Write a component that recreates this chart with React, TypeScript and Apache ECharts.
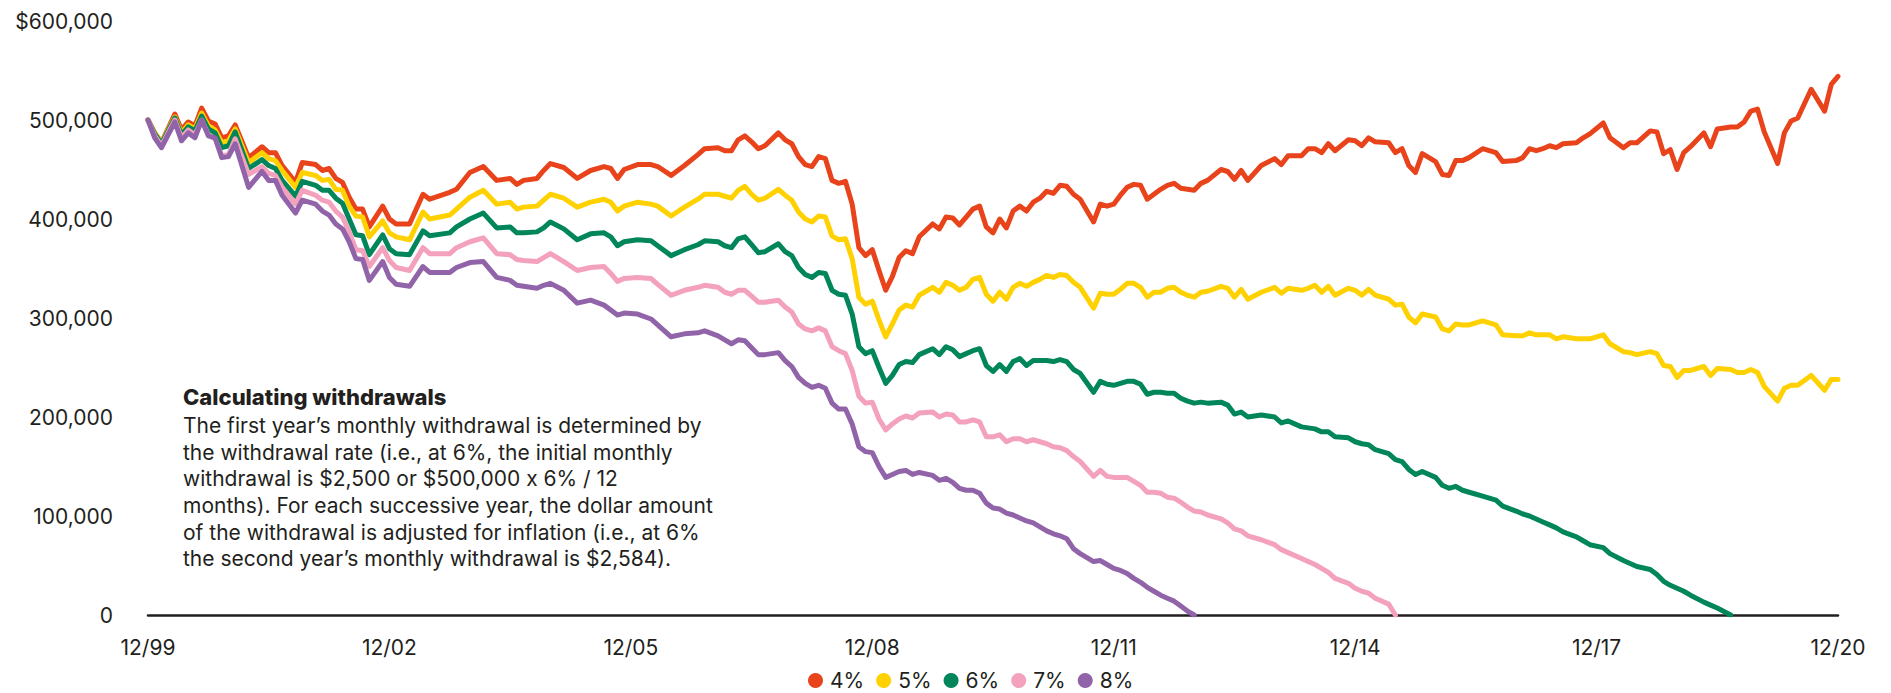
import React, { useEffect, useRef } from "react";
import * as echarts from "echarts";

// Month index counted from 12/99 (0) to 12/20 (252)
const months = [
  0, 1, 2, 4, 5, 6, 7, 8, 9, 10, 11, 12, 13, 15, 17, 18, 19, 20, 22, 23, 25, 26, 27, 28, 29, 30, 31, 32, 33, 35,
  36, 37, 39, 41, 42, 45, 46, 48, 50, 52, 54, 55, 56, 58, 59, 60, 62, 64, 66, 68, 69, 70, 71, 73, 75, 76,
  78, 80, 82, 83, 85, 86, 87, 88, 89, 90, 91, 92, 94, 95, 96, 97, 98, 99, 100, 101, 102, 103, 104, 105, 106, 107,
  108, 109, 110, 111, 112, 113, 114, 115, 117, 118, 119, 120, 121, 122, 123, 124, 125, 126, 127, 128, 129, 130,
  131, 132, 133, 134, 135, 136, 137, 138, 139, 141, 142, 143, 144, 145, 146, 147, 148, 149, 150, 151,
  152, 153, 154, 155, 156, 157, 158, 160, 161, 162, 163, 164, 166, 168, 169, 170, 172, 173, 174, 175, 176, 177,
  179, 180, 181, 182, 183, 185, 186, 187, 188, 189, 190, 192, 193, 194, 195, 196, 197, 199, 201, 202, 204, 205,
  206, 207, 208, 209, 210, 211, 213, 214, 215, 217, 218, 220, 221, 222, 224, 225,
  226, 227, 228, 229, 230, 232, 233, 234, 236, 237, 238, 239, 240, 241, 243, 244, 245, 246, 248, 250, 251, 252,
];

// Portfolio values in thousands of dollars, aligned with months
const rate4 = [
  500, 487, 477, 506, 490, 498, 494, 512, 499, 496, 482, 484, 495, 462, 473, 467, 467, 454, 437, 457,
  455, 449, 451, 441, 437, 422, 410, 410, 392, 413, 400, 395, 395, 425, 420, 427, 430, 447, 453, 439,
  441, 435, 439, 441, 449, 456, 452, 441, 449, 453, 451, 441, 450, 455, 455, 453,
  444, 454, 465, 471, 472, 469, 469, 480, 484, 478, 471, 474, 487, 480, 476, 463, 455, 453, 463, 461,
  439, 436, 438, 415, 371, 363, 369, 348, 328, 342, 361, 368, 365, 382, 395, 390, 402, 401, 394, 402,
  410, 413, 392, 386, 400, 391, 408, 413, 408, 417, 421, 428, 426, 434, 433, 425, 420, 397, 415, 413,
  415, 424, 432, 435, 434, 420, 425, 430,
  434, 436, 431, 430, 429, 436, 439, 450, 448, 440, 449, 439, 454, 461, 455, 464, 464, 471, 471, 467,
  476, 469, 480, 479, 474, 482, 478, 477, 467, 471, 454, 447, 466, 458, 445, 444, 459, 459, 462, 471,
  467, 458, 459, 462, 471, 469, 471, 474, 472, 476, 477, 482, 486, 497, 482, 472, 477, 477, 489, 488,
  466, 470, 450, 467, 473, 487, 473, 491, 493, 493, 498, 509, 511, 488, 456, 487, 499, 502, 531, 509,
  536, 544,
];

const rate5 = [
  500, 487, 477, 503, 487, 495, 491, 507, 494, 490, 477, 479, 491, 457, 467, 461, 459, 449, 432, 447,
  444, 439, 440, 430, 429, 413, 403, 402, 382, 398, 386, 382, 379, 407, 400, 404, 410, 422, 429, 415,
  417, 410, 412, 413, 419, 425, 421, 412, 417, 420, 417, 408, 413, 417, 415, 413,
  403, 412, 420, 425, 425, 423, 421, 429, 433, 425, 419, 421, 430, 424, 419, 407, 400, 397, 403, 402,
  383, 379, 380, 360, 321, 314, 317, 298, 281, 294, 308, 313, 311, 323, 331, 326, 336, 333, 328, 331,
  339, 341, 324, 317, 326, 319, 331, 335, 332, 336, 339, 343, 341, 344, 343, 336, 331, 310, 325, 324,
  324, 329, 335, 335, 331, 321, 326, 326,
  330, 331, 326, 323, 321, 326, 327, 332, 330, 321, 329, 319, 326, 331, 325, 330, 328, 330, 333, 326,
  332, 323, 330, 328, 323, 329, 323, 319, 313, 314, 301, 295, 304, 301, 289, 287, 294, 293, 293, 297,
  293, 283, 282, 282, 285, 283, 283, 283, 279, 281, 279, 279, 279, 283, 274, 266, 265, 263, 266, 264,
  252, 251, 240, 247, 247, 251, 242, 249, 248, 245, 245, 248, 245, 231, 216, 229, 232, 232, 242, 227,
  238, 238,
];

const rate6 = [
  500, 486, 476, 502, 485, 493, 489, 504, 491, 487, 472, 474, 488, 451, 460, 454, 451, 439, 423, 438,
  434, 429, 429, 421, 416, 400, 384, 383, 364, 384, 370, 365, 364, 388, 383, 386, 392, 400, 406, 391,
  392, 386, 386, 387, 391, 397, 390, 379, 385, 386, 382, 373, 377, 379, 378, 373,
  363, 369, 374, 378, 377, 373, 371, 380, 382, 374, 366, 367, 375, 367, 363, 351, 344, 341, 346, 345,
  328, 324, 323, 304, 271, 264, 267, 250, 234, 242, 253, 256, 255, 263, 269, 263, 271, 268, 261, 264,
  267, 269, 252, 246, 253, 246, 256, 259, 252, 257, 257, 257, 256, 258, 256, 248, 244, 225, 236, 233,
  232, 234, 236, 236, 233, 223, 225, 225,
  224, 224, 219, 216, 214, 215, 214, 215, 212, 203, 205, 200, 202, 200, 194, 196, 190, 189, 188, 185,
  185, 180, 179, 175, 173, 172, 167, 163, 157, 155, 147, 142, 145, 139, 131, 128, 130, 126, 124, 120,
  116, 110, 105, 102, 100, 97, 94, 91, 88, 84, 79, 75, 71, 68, 62, 55, 52, 49, 46, 41,
  34, 30, 27, 24, 20, 13, 10, 7, 0,
];

const rate7 = [
  500, 484, 474, 500, 482, 490, 485, 500, 485, 481, 464, 465, 481, 445, 453, 446, 444, 432, 415, 429,
  424, 419, 417, 408, 402, 387, 369, 368, 352, 371, 358, 351, 348, 371, 365, 365, 371, 377, 381, 365,
  364, 359, 358, 357, 361, 365, 357, 348, 351, 352, 345, 337, 340, 341, 340, 334,
  323, 328, 331, 333, 331, 326, 324, 328, 328, 322, 316, 316, 318, 311, 306, 294, 289, 287, 290, 287,
  271, 267, 264, 247, 221, 214, 215, 198, 187, 193, 198, 201, 199, 204, 205, 200, 203, 202, 195, 195,
  197, 195, 180, 180, 182, 175, 178, 178, 175, 177, 175, 173, 170, 169, 166, 160, 155, 140, 146, 140,
  139, 139, 139, 135, 131, 124, 124, 123,
  119, 118, 114, 109, 105, 104, 101, 97, 93, 87, 85, 80, 76, 71, 66, 63, 57, 54, 51, 47,
  43, 37, 32, 27, 24, 22, 17, 11, 0,
];

const rate8 = [
  500, 482, 472, 498, 479, 487, 482, 500, 484, 482, 462, 463, 476, 432, 448, 439, 439, 424, 406, 419,
  415, 408, 404, 395, 390, 377, 360, 359, 338, 357, 341, 334, 332, 352, 346, 346, 351, 356, 357, 341,
  338, 333, 332, 330, 333, 335, 328, 315, 318, 313, 308, 303, 305, 304, 299, 293,
  281, 284, 285, 287, 282, 278, 274, 278, 277, 270, 263, 263, 265, 257, 251, 240, 234, 230, 232, 229,
  214, 208, 208, 193, 170, 165, 164, 150, 139, 142, 145, 146, 142, 144, 141, 136, 138, 134, 128, 126,
  126, 123, 113, 108, 107, 103, 101, 98, 95, 93, 89, 85, 82, 80, 77, 67, 62, 54, 55, 51,
  47, 45, 42, 37, 33, 28, 24, 20,
  17, 14, 9, 4, 0,
];

const seriesNames = ["4%", "5%", "6%", "7%", "8%"];
const seriesValues = [rate4, rate5, rate6, rate7, rate8];
const seriesColors = ["#E8431B", "#FFD100", "#00865A", "#F3A1BC", "#9163A8"];

const xTickLabels = ["12/99", "12/02", "12/05", "12/08", "12/11", "12/14", "12/17", "12/20"];
const yTickLabels = ["0", "100,000", "200,000", "300,000", "400,000", "500,000", "$600,000"];

const noteTitle = "Calculating withdrawals";
// {x|x} keeps the multiplication letter a plain "x" (its own text run)
const noteLines = [
  "The first year\u2019s monthly withdrawal is determined by",
  "the withdrawal rate (i.e., at 6%, the initial monthly",
  "withdrawal is $2,500 or $500,000 {x|x} 6% / 12",
  "months). For each successive year, the dollar amount",
  "of the withdrawal is adjusted for inflation (i.e., at 6%",
  "the second year\u2019s monthly withdrawal is $2,584).",
];

const FONT = "Inter, 'Noto Sans', sans-serif";
const TEXT = "#231F20";

export default function App() {
  const ref = useRef<HTMLDivElement>(null);

  useEffect(() => {
    if (!ref.current) return;
    const chart = echarts.init(ref.current, undefined, { renderer: "svg" });
    const series = seriesValues.map((vals, si) => ({
      name: seriesNames[si],
      type: "line",
      data: vals.map((v, i) => [months[i], v * 1000]),
      showSymbol: false,
      symbol: "none",
      lineStyle: { width: 5, color: seriesColors[si], join: "round", cap: "round" },
      itemStyle: { color: seriesColors[si] },
      z: 2 + si,
    }));

    chart.setOption({
      animation: false,
      textStyle: { fontFamily: FONT },
      grid: { left: 148, right: 53, top: 21, bottom: 78, containLabel: false },
      xAxis: {
        type: "value",
        min: 0,
        max: 252,
        interval: 36,
        axisLine: { show: true, onZero: false, lineStyle: { color: TEXT, width: 2.5 } },
        axisTick: { show: false },
        splitLine: { show: false },
        axisLabel: {
          margin: 22,
          fontSize: 21,
          color: TEXT,
          fontFamily: FONT,
          formatter: (v: number) => xTickLabels[Math.round(v / 36)] ?? "",
        },
      },
      yAxis: {
        type: "value",
        min: 0,
        max: 600000,
        interval: 100000,
        axisLine: { show: false },
        axisTick: { show: false },
        splitLine: { show: false },
        axisLabel: {
          margin: 35,
          fontSize: 21,
          color: TEXT,
          fontFamily: FONT,
          formatter: (v: number) => yTickLabels[Math.round(v / 100000)] ?? "",
        },
      },
      legend: {
        data: seriesNames,
        left: 803,
        top: 665,
        icon: "circle",
        itemWidth: 15,
        itemHeight: 15,
        itemGap: 12,
        textStyle: { fontSize: 21, lineHeight: 21, color: TEXT, fontFamily: FONT, padding: [0, 0, 0, 2] },
      },
      graphic: [
        {
          type: "text",
          left: 183,
          top: 386,
          style: {
            text: noteTitle,
            font: `800 22px ${FONT}`,
            fill: TEXT,
          },
        },
        {
          type: "text",
          left: 183,
          top: 412,
          style: {
            text: noteLines.join("\n"),
            font: `21px ${FONT}`,
            lineHeight: 26.7,
            fill: TEXT,
            rich: {
              x: { font: `21px ${FONT}`, lineHeight: 26.7, fill: TEXT },
            },
          },
        },
      ],
      series,
    });

    return () => chart.dispose();
  }, []);

  return (
    <div
      ref={ref}
      style={{ position: "absolute", left: 0, top: 0, width: 1891, height: 693 }}
    />
  );
}
